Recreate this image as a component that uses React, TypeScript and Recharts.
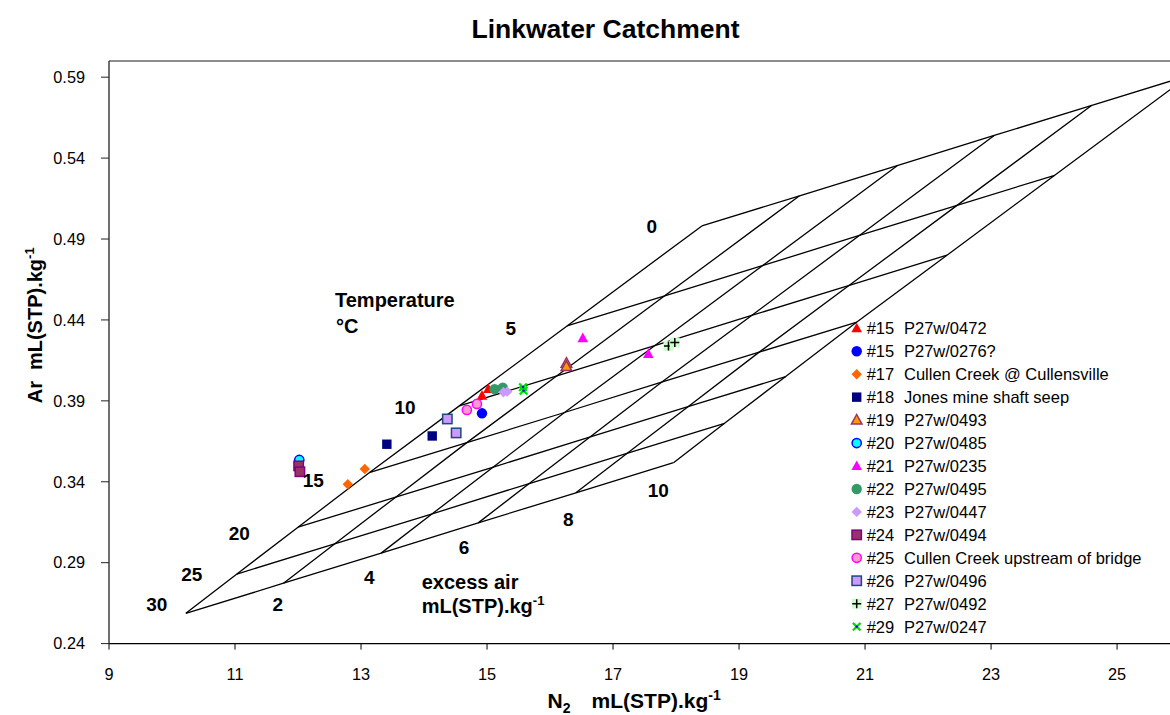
import { ScatterChart, Scatter, XAxis, YAxis, ReferenceLine } from 'recharts';

// equilibrium grid: rows = temperature (°C), columns = excess air (mL(STP)/kg)
const temperatures = [0, 5, 10, 15, 20, 25, 30];
const excessAir = [0, 2, 4, 6, 8, 10];
const gridN2 = [
  [18.41, 19.96, 21.51, 23.05, 24.60, 26.15],
  [16.27, 17.82, 19.37, 20.91, 22.46, 24.01],
  [14.56, 16.11, 17.66, 19.20, 20.75, 22.30],
  [13.13, 14.68, 16.23, 17.77, 19.32, 20.87],
  [12.00, 13.55, 15.10, 16.64, 18.19, 19.74],
  [11.03, 12.58, 14.13, 15.67, 17.22, 18.77],
  [10.22, 11.77, 13.32, 14.86, 16.41, 17.96],
];
const gridAr = [
  [0.4981, 0.5167, 0.5353, 0.5540, 0.5726, 0.5912],
  [0.4363, 0.4549, 0.4735, 0.4922, 0.5108, 0.5294],
  [0.3869, 0.4055, 0.4241, 0.4428, 0.4614, 0.4800],
  [0.3456, 0.3642, 0.3828, 0.4015, 0.4201, 0.4387],
  [0.3119, 0.3305, 0.3491, 0.3678, 0.3864, 0.4050],
  [0.2830, 0.3016, 0.3202, 0.3389, 0.3575, 0.3761],
  [0.2587, 0.2773, 0.2959, 0.3146, 0.3332, 0.3518],
];

// samples
const siteCodes = ['#15', '#15', '#17', '#18', '#19', '#20', '#21', '#22', '#23', '#24', '#25', '#26', '#27', '#29'];
const siteNames = [
  'P27w/0472', 'P27w/0276?', 'Cullen Creek @ Cullensville', 'Jones mine shaft seep', 'P27w/0493',
  'P27w/0485', 'P27w/0235', 'P27w/0495', 'P27w/0447', 'P27w/0494',
  'Cullen Creek upstream of bridge', 'P27w/0496', 'P27w/0492', 'P27w/0247',
];
const siteN2 = [
  [14.92, 15.02], [14.92], [12.79, 13.06], [13.41, 14.13], [16.26, 16.26],
  [12.02], [16.52, 17.56], [15.12, 15.25], [15.26, 15.32], [12.01, 12.03],
  [14.68, 14.84], [14.37, 14.51], [17.88, 17.98], [15.57, 15.58],
];
const siteAr = [
  [0.3932, 0.3973], [0.3823], [0.3385, 0.3479], [0.3632, 0.3683], [0.4132, 0.4112],
  [0.3535], [0.4287, 0.4190], [0.3972, 0.3982], [0.3953, 0.3957], [0.3498, 0.3462],
  [0.3844, 0.3881], [0.3788, 0.3702], [0.4239, 0.4260], [0.3984, 0.3963],
];

const xTicks = [9, 11, 13, 15, 17, 19, 21, 23, 25];
const yTicks = [0.24, 0.29, 0.34, 0.39, 0.44, 0.49, 0.54, 0.59];

type Kind = 'triangle' | 'circle' | 'diamond' | 'square' | 'plus' | 'cross';
type MarkerStyle = { kind: Kind; fill: string; stroke?: string };

const markerStyles: MarkerStyle[] = [
  { kind: 'triangle', fill: '#FF0000' },
  { kind: 'circle', fill: '#0000FF' },
  { kind: 'diamond', fill: '#FF6600' },
  { kind: 'square', fill: '#000080' },
  { kind: 'triangle', fill: '#FF9900', stroke: '#993366' },
  { kind: 'circle', fill: '#00FFFF', stroke: '#0000FF' },
  { kind: 'triangle', fill: '#FF00FF' },
  { kind: 'circle', fill: '#339966' },
  { kind: 'diamond', fill: '#CC99FF' },
  { kind: 'square', fill: '#993366', stroke: '#800080' },
  { kind: 'circle', fill: '#FF99CC', stroke: '#FF00FF' },
  { kind: 'square', fill: '#CC99FF', stroke: '#1F497D' },
  { kind: 'plus', fill: '#CCFFCC', stroke: '#000000' },
  { kind: 'cross', fill: '#0000FF', stroke: '#00DD00' },
];

const FONT = '"Liberation Sans", Arial, Helvetica, sans-serif';

const tempLines = temperatures.map((_, i) => excessAir.map((__, j) => ({ x: gridN2[i][j], y: gridAr[i][j] })));
const airLines = excessAir.map((_, j) => temperatures.map((__, i) => ({ x: gridN2[i][j], y: gridAr[i][j] })));
const sites = siteCodes.map((code, k) => ({
  code,
  name: siteNames[k],
  style: markerStyles[k],
  points: siteN2[k].map((x, n) => ({ x, y: siteAr[k][n] })),
}));

function Marker({ cx, cy, kind, fill, stroke }: { cx: number; cy: number } & MarkerStyle) {
  const sw = stroke ? 1.5 : 0;
  const st = stroke ?? 'none';
  switch (kind) {
    case 'triangle':
      return <polygon points={`${cx},${cy - 5.6} ${cx + 5.3},${cy + 4} ${cx - 5.3},${cy + 4}`} fill={fill} stroke={st} strokeWidth={sw} />;
    case 'circle':
      return <circle cx={cx} cy={cy} r={stroke ? 4.6 : 5.2} fill={fill} stroke={st} strokeWidth={sw} />;
    case 'diamond':
      return <polygon points={`${cx},${cy - 5.2} ${cx + 5.2},${cy} ${cx},${cy + 5.2} ${cx - 5.2},${cy}`} fill={fill} />;
    case 'square':
      return <rect x={cx - 4.7} y={cy - 4.7} width={9.4} height={9.4} fill={fill} stroke={st} strokeWidth={sw} />;
    case 'plus':
      return (
        <g>
          <rect x={cx - 5} y={cy - 5} width={10} height={10} fill={fill} />
          <path d={`M${cx - 4.5},${cy}H${cx + 4.5}M${cx},${cy - 4.5}V${cy + 4.5}`} stroke={st} strokeWidth={1.5} />
        </g>
      );
    default:
      return (
        <g>
          <path d={`M${cx - 3.8},${cy - 3.8}L${cx + 3.8},${cy + 3.8}M${cx + 3.8},${cy - 3.8}L${cx - 3.8},${cy + 3.8}`} stroke={st} strokeWidth={2.2} />
          <circle cx={cx} cy={cy} r={1.2} fill={fill} />
        </g>
      );
  }
}

const tempLabels = [
  { t: '0', x: 643.7, y: 224.8 },
  { t: '5', x: 502.7, y: 327.1 },
  { t: '10', x: 397, y: 405.5 },
  { t: '15', x: 305.3, y: 478.8 },
  { t: '20', x: 231.3, y: 532.1 },
  { t: '25', x: 183.7, y: 572.8 },
  { t: '30', x: 148.7, y: 602.8 },
];
const airLabels = [
  { t: '2', x: 269.7, y: 602.8 },
  { t: '4', x: 361.3, y: 575.5 },
  { t: '6', x: 456, y: 545.5 },
  { t: '8', x: 560.3, y: 517.8 },
  { t: '10', x: 650.3, y: 488.8 },
];

export default function App() {
  return (
    <div style={{ position: 'relative', width: 1162, height: 707, fontFamily: FONT }}>
      <style>{'html { overflow: hidden; } body { margin: 8px 0 0 8px; }'}</style>
      <ScatterChart width={1162} height={707} margin={{ top: 53, right: 0, bottom: 0, left: 0 }} style={{ fontFamily: FONT }}>
        <XAxis
          type="number"
          dataKey="x"
          domain={[9, 25.84]}
          allowDataOverflow
          ticks={xTicks}
          height={71.4}
          tickSize={6}
          tickMargin={19}
          axisLine={{ stroke: '#000', strokeWidth: 1.3 }}
          tickLine={{ stroke: '#000' }}
          tick={{ fontSize: 16.3, fill: '#000' }}
        />
        <YAxis
          type="number"
          dataKey="y"
          domain={[0.24, 0.6]}
          allowDataOverflow
          ticks={yTicks}
          width={101}
          tickSize={8}
          tickMargin={16}
          tickFormatter={(v: number) => v.toFixed(2)}
          axisLine={{ stroke: '#222', strokeWidth: 1.3 }}
          tickLine={{ stroke: '#222' }}
          tick={{ fontSize: 16.3, fill: '#000' }}
        />
        <ReferenceLine y={0.6} stroke="#8c8c8c" strokeWidth={2} />
        {tempLines.map((pts, i) => (
          <Scatter key={`t${i}`} data={pts} line={{ stroke: '#000', strokeWidth: 1.3 }} shape={() => <g />} legendType="none" isAnimationActive={false} />
        ))}
        {airLines.map((pts, j) => (
          <Scatter key={`a${j}`} data={pts} line={{ stroke: '#000', strokeWidth: 1.3 }} shape={() => <g />} legendType="none" isAnimationActive={false} />
        ))}
        {sites.map((s, k) => (
          <Scatter
            key={`s${k}`}
            name={`${s.code}  ${s.name}`}
            data={s.points}
            shape={(p: any) => <Marker cx={p.cx} cy={p.cy} {...s.style} />}
            isAnimationActive={false}
          />
        ))}
      </ScatterChart>
      <svg
        width={1162}
        height={707}
        style={{ position: 'absolute', left: 0, top: 0, pointerEvents: 'none', fontFamily: FONT }}
      >
        <text x={597.5} y={29.7} textAnchor="middle" fontSize={26.5} fontWeight="bold" fill="#000">
          Linkwater Catchment
        </text>
        <text x={34} y={395.3} transform="rotate(-90, 34, 395.3)" fontSize={20} fontWeight="bold" fill="#000">
          Ar
          <tspan dx={11}>mL(STP).kg</tspan>
          <tspan dy={-8} fontSize={13}>-1</tspan>
        </text>
        <text x={539.6} y={700} fontSize={21} fontWeight="bold" fill="#000">
          N
          <tspan dy={5} fontSize={14}>2</tspan>
          <tspan dy={-5} dx={21}>mL(STP).kg</tspan>
          <tspan dy={-8} fontSize={14}>-1</tspan>
        </text>
        {tempLabels.concat(airLabels).map((l, i) => (
          <text key={i} x={l.x} y={l.y} textAnchor="middle" fontSize={19} fontWeight="bold" fill="#000">
            {l.t}
          </text>
        ))}
        <text x={327} y={299.3} fontSize={20} fontWeight="bold" fill="#000">Temperature</text>
        <text x={328} y={324.7} fontSize={20} fontWeight="bold" fill="#000">°C</text>
        <text x={413.7} y={581.3} fontSize={20} fontWeight="bold" fill="#000">excess air</text>
        <text x={413.7} y={605.3} fontSize={20} fontWeight="bold" fill="#000">
          mL(STP).kg
          <tspan dy={-8} fontSize={13}>-1</tspan>
        </text>
        {/* legend */}
        <g transform="translate(832, 302)">
          {sites.map((s, i) => {
            const cy = 18.3 + i * 22.95;
            return (
              <g key={i}>
                <Marker cx={16.7} cy={cy} {...s.style} />
                <text x={26.7} y={cy + 5.9} fontSize={16.5} fill="#000">{s.code}</text>
                <text x={64} y={cy + 5.9} fontSize={16.5} fill="#000">{s.name}</text>
              </g>
            );
          })}
        </g>
      </svg>
    </div>
  );
}
